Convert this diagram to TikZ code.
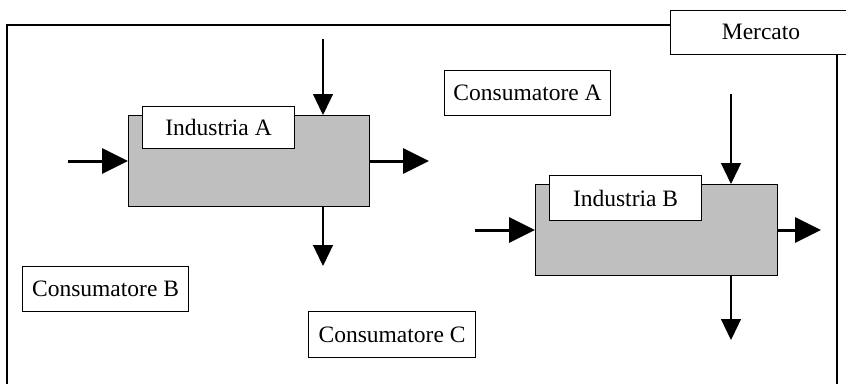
\documentclass[tikz,border=0pt]{standalone}
\usepackage{fontspec}
\setmainfont{Liberation Serif}
\usetikzlibrary{arrows.meta}
\begin{document}
\begin{tikzpicture}[x=1pt,y=-1pt,
  txt/.style={font=\fontsize{23.5}{26}\selectfont},
  lbl/.style={draw,fill=white,line width=1.1pt,inner sep=0pt,anchor=north west},
  industry/.style={draw,fill=gray!50,line width=1.3pt,inner sep=0pt,anchor=north west},
  thin/.style={line width=1.3pt,-{Triangle[length=21pt,width=20pt]}},
  thick/.style={line width=3pt,-{Triangle[length=26pt,width=25pt]}}]
\useasboundingbox (0,0) rectangle (846,383);
\clip (0,0) rectangle (846,383);
% market frame
\draw[line width=1.4pt] (7,390) -- (7,25) -- (837,25) -- (837,390);
\node[lbl,minimum width=180pt,minimum height=44pt] (mkt) at (670,10) {};
\node[txt] at (761,32) {Mercato};
% consumers
\node[lbl,minimum width=166pt,minimum height=45pt] (ca) at (444,70) {};
\node[txt] at (ca.center) {Consumatore A};
\node[lbl,minimum width=166pt,minimum height=45pt] (cb) at (22,266) {};
\node[txt] at (cb.center) {Consumatore B};
\node[lbl,minimum width=167pt,minimum height=46pt] (cc) at (308,311) {};
\node[txt] at (cc.center) {Consumatore C};
% industry A
\node[industry,minimum width=241pt,minimum height=91pt] (ia) at (128,115) {};
\node[lbl,minimum width=152pt,minimum height=42pt] (la) at (142,106) {};
\node[txt] at (la.center) {Industria A};
\coordinate (iaTop) at (323,39);
\coordinate (iaIn) at (68,161);
\coordinate (iaOut) at (429,161);
\coordinate (iaDown) at (323,266);
\draw[thin] (iaTop) -- (iaTop |- ia.north);
\draw[thick] (iaIn) -- (iaIn -| ia.west);
\draw[thick] (iaIn -| ia.east) -- (iaOut);
\draw[thin] (iaDown |- ia.south) -- (iaDown);
% industry B
\node[industry,minimum width=242pt,minimum height=91pt] (ib) at (535,184) {};
\node[lbl,minimum width=152pt,minimum height=45pt] (lb) at (549,175) {};
\node[txt] at (lb.center) {Industria B};
\coordinate (ibTop) at (731,94);
\coordinate (ibIn) at (475,230);
\coordinate (ibOut) at (821,230);
\coordinate (ibDown) at (731,340);
\draw[thin] (ibTop) -- (ibTop |- ib.north);
\draw[thick] (ibIn) -- (ibIn -| ib.west);
\draw[thick] (ibIn -| ib.east) -- (ibOut);
\draw[thin] (ibDown |- ib.south) -- (ibDown);
\end{tikzpicture}
\end{document}
